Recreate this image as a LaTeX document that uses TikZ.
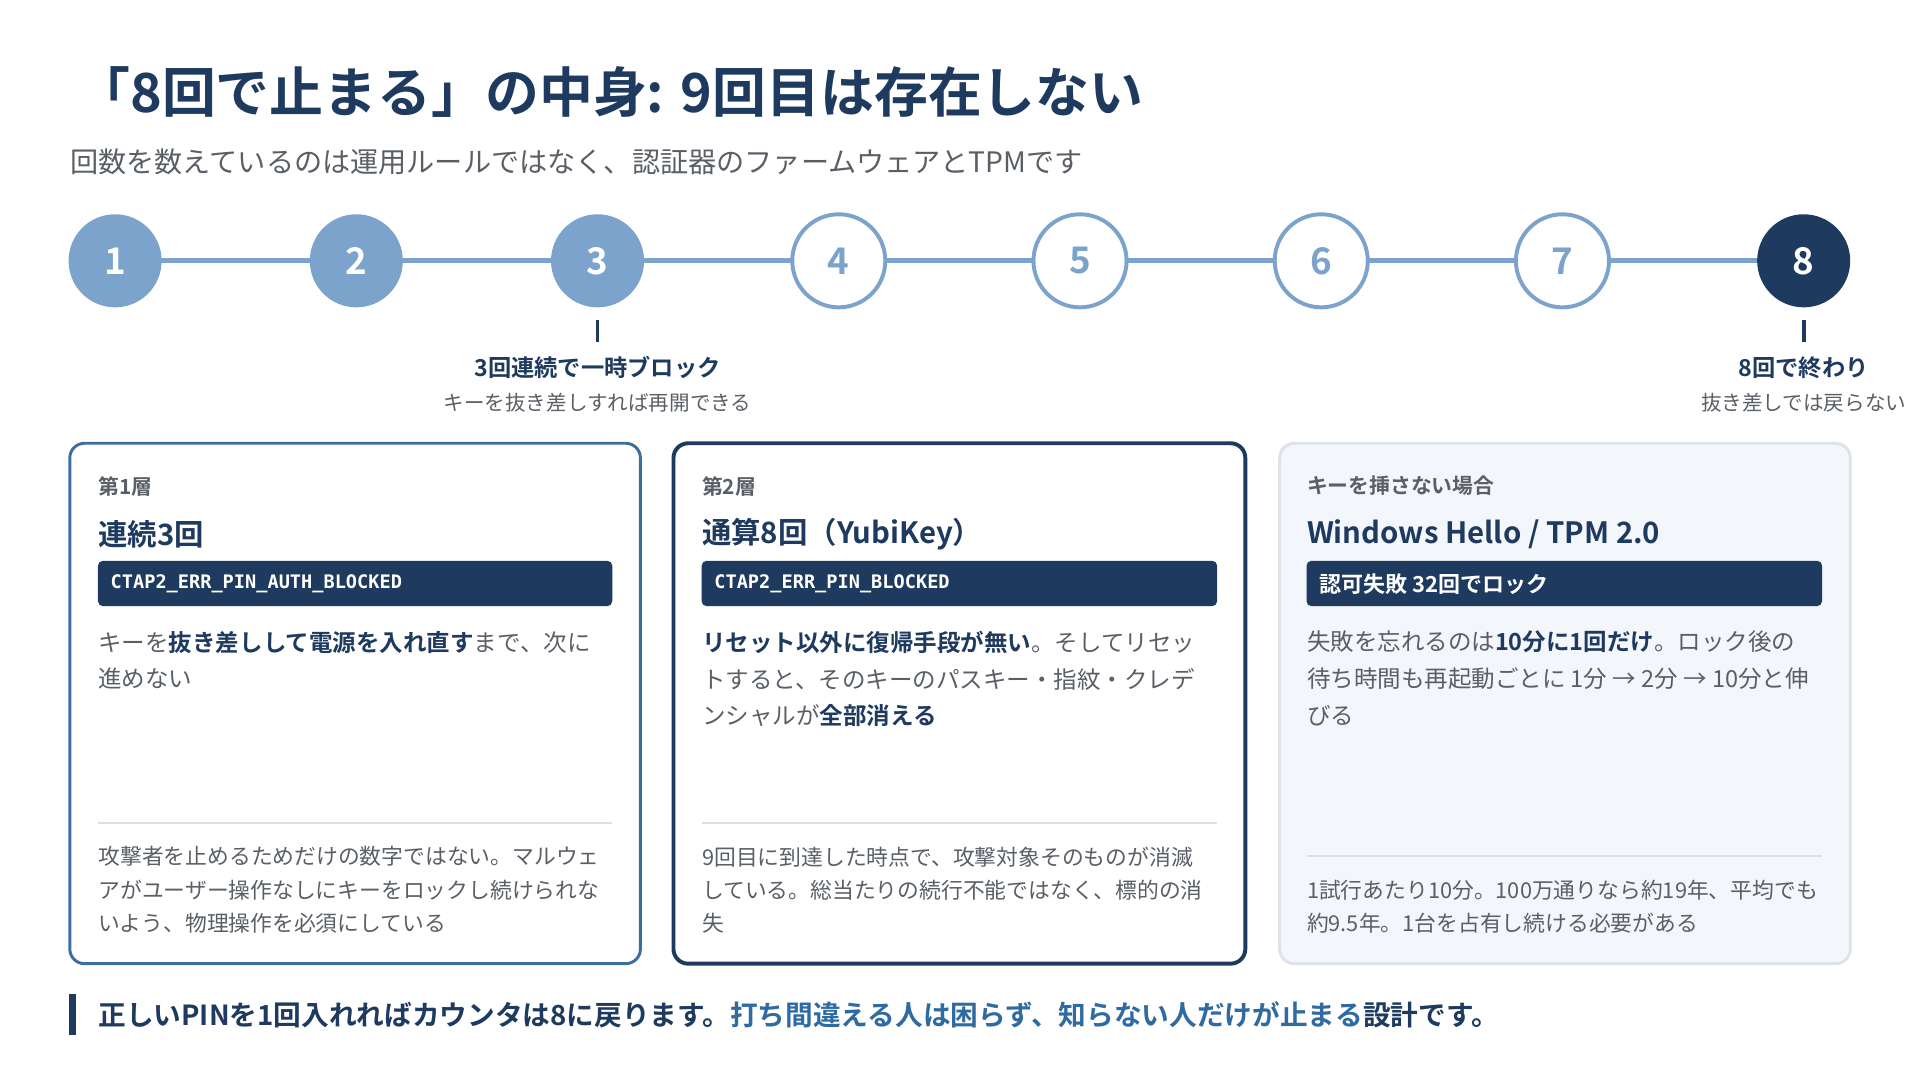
\documentclass[tikz,border=0pt]{standalone}
\usepackage{fontspec}
\setmainfont{Noto Sans CJK JP}[BoldFont={Noto Sans CJK JP Bold}]
\newfontfamily\codefont{DejaVu Sans Mono}
\usetikzlibrary{positioning}
\definecolor{navy}{HTML}{1E3A5F}
\definecolor{midblue}{HTML}{7BA3CC}
\definecolor{edgeblue}{HTML}{3E6E9E}
\definecolor{accent}{HTML}{2F6AA3}
\definecolor{greytext}{HTML}{5A5F66}
\definecolor{paleback}{HTML}{F3F6FA}
\definecolor{paleedge}{HTML}{DDE3EA}
\definecolor{rulegrey}{HTML}{DCDFE3}
\tikzset{
  tries/.style={circle, minimum size=38pt, inner sep=0pt, font=\fontsize{15}{15}\bfseries\selectfont},
  done/.style={tries, fill=midblue, text=white},
  todo/.style={tries, fill=white, draw=midblue, line width=1.6pt, text=midblue},
  last/.style={tries, fill=navy, text=white},
  card/.style={rounded corners=6pt},
  tag/.style={anchor=west, inner sep=0pt, text=greytext, font=\fontsize{8.5}{10}\bfseries\selectfont},
  head/.style={anchor=west, inner sep=0pt, text=navy, font=\fontsize{12}{14}\bfseries\selectfont},
  codebar/.style={fill=navy, rounded corners=2pt},
  code/.style={anchor=west, inner sep=0pt, text=white, font=\fontsize{7.6}{10}\codefont\bfseries\selectfont},
  body/.style={anchor=north west, inner sep=0pt, align=left, text=greytext, font=\fontsize{9.6}{15}\selectfont},
  note/.style={anchor=north west, inner sep=0pt, align=left, text=greytext, font=\fontsize{8.9}{13.5}\selectfont},
}
\begin{document}
\begin{tikzpicture}[x=0.5pt,y=-0.5pt]
\useasboundingbox (0,0) rectangle (1568,882);
% title
\node[anchor=west, inner sep=0pt, text=navy, font=\fontsize{22}{26}\bfseries\selectfont] (title) at (62,75) {「8回で止まる」の中身: 9回目は存在しない};
\node[anchor=west, inner sep=0pt, text=greytext, font=\fontsize{11.5}{14}\selectfont] (subtitle) at (57,132) {回数を数えているのは運用ルールではなく、認証器のファームウェアとTPMです};
% counter
\draw[midblue, line width=2pt] (94,213) -- (1473,213);
\foreach \i/\x/\s in {1/94/done, 2/291/done, 3/488/done, 4/685/todo, 5/882/todo, 6/1079/todo, 7/1276/todo, 8/1473/last}
  \node[\s] (c\i) at (\x,213) {\i};
\draw[navy, line width=1.5pt] (488,261) -- (488,279);
\draw[navy, line width=1.5pt] (1473,261) -- (1473,279);
\node[inner sep=0pt, text=navy, font=\fontsize{9.5}{11}\bfseries\selectfont] (m3) at (488,300) {3回連続で一時ブロック};
\node[inner sep=0pt, text=greytext, font=\fontsize{8.4}{10}\selectfont] (m3b) at (488,329) {キーを抜き差しすれば再開できる};
\node[inner sep=0pt, text=navy, font=\fontsize{9.5}{11}\bfseries\selectfont] (m8) at (1473,300) {8回で終わり};
\node[inner sep=0pt, text=greytext, font=\fontsize{8.4}{10}\selectfont] (m8b) at (1473,329) {抜き差しでは戻らない};
% cards
\draw[card, draw=edgeblue, line width=1.2pt, fill=white] (57,362) rectangle (523,787);
\draw[card, draw=navy, line width=1.6pt, fill=white] (550,362) rectangle (1017,787);
\draw[card, draw=paleedge, line width=1.2pt, fill=paleback] (1045,362) rectangle (1511,787);
% card 1
\node[tag] (t1) at (80,397) {第1層};
\node[head] (h1) at (80,436) {連続3回};
\fill[codebar] (80,458) rectangle (500,495);
\node[code] (k1) at (90,477) {CTAP2\_ERR\_PIN\_AUTH\_BLOCKED};
\node[body] (b1) at (80,515) {キーを\textcolor{navy}{\bfseries 抜き差しして電源を入れ直す}まで、次に\\進めない};
\draw[rulegrey, line width=1pt] (80,672) -- (500,672);
\node[note] (n1) at (80,691) {攻撃者を止めるためだけの数字ではない。マルウェ\\アがユーザー操作なしにキーをロックし続けられな\\いよう、物理操作を必須にしている};
% card 2
\node[tag] (t2) at (573,397) {第2層};
\node[head] (h2) at (573,436) {通算8回（YubiKey）};
\fill[codebar] (573,458) rectangle (994,495);
\node[code] (k2) at (583,477) {CTAP2\_ERR\_PIN\_BLOCKED};
\node[body] (b2) at (573,515) {\textcolor{navy}{\bfseries リセット以外に復帰手段が無い}。そしてリセッ\\トすると、そのキーのパスキー・指紋・クレデ\\ンシャルが\textcolor{navy}{\bfseries 全部消える}};
\draw[rulegrey, line width=1pt] (573,672) -- (994,672);
\node[note] (n2) at (573,691) {9回目に到達した時点で、攻撃対象そのものが消滅\\している。総当たりの続行不能ではなく、標的の消\\失};
% card 3
\node[tag] (t3) at (1067,397) {キーを挿さない場合};
\node[head] (h3) at (1067,436) {Windows Hello / TPM 2.0};
\fill[codebar] (1067,458) rectangle (1488,495);
\node[anchor=west, inner sep=0pt, text=white, font=\fontsize{9}{11}\bfseries\selectfont] (k3) at (1077,477) {認可失敗 32回でロック};
\node[body] (b3) at (1067,515) {失敗を忘れるのは\textcolor{navy}{\bfseries 10分に1回だけ}。ロック後の\\待ち時間も再起動ごとに 1分 → 2分 → 10分と伸\\びる};
\draw[rulegrey, line width=1pt] (1067,699) -- (1488,699);
\node[note] (n3) at (1067,718) {1試行あたり10分。100万通りなら約19年、平均でも\\約9.5年。1台を占有し続ける必要がある};
% bottom line
\fill[navy] (56,812) rectangle (62,845);
\node[anchor=west, inner sep=0pt, text=navy, font=\fontsize{11.3}{13}\bfseries\selectfont] (bottom) at (80,829) {正しいPINを1回入れればカウンタは8に戻ります。\textcolor{accent}{打ち間違える人は困らず、知らない人だけが止まる}設計です。};
\end{tikzpicture}
\end{document}
